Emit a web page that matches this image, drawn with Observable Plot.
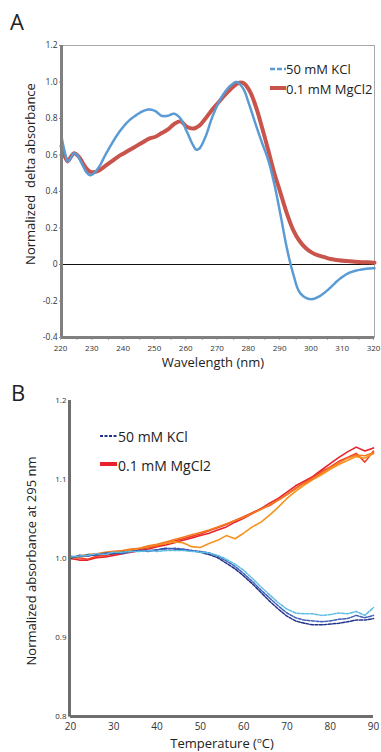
<!DOCTYPE html>
<html>
<head>
<meta charset="utf-8">
<script src="https://cdn.jsdelivr.net/npm/d3@7"></script>
<script src="https://cdn.jsdelivr.net/npm/@observablehq/plot@0.6"></script>
<style>
  body { margin: 0; background: #fff; }
  #wrap { position: relative; width: 381px; height: 752px; font-family: "Open Sans", sans-serif; color: #222; overflow: hidden; }
  .abs { position: absolute; white-space: pre; line-height: 1; }
  .rot { transform: translate(-50%, -50%) rotate(-90deg); }
  .ctr { transform: translate(-50%, -50%); }
  svg text { font-family: "Open Sans", sans-serif; }
</style>
</head>
<body>
<div id="wrap"></div>
<script>
// ---------- Panel A data: wavelength scan ----------
const wavelength = [220,221,222,223,224,225,226,227,228,229,230,232,234,236,238,240,242,244,246,248,250,252,254,256,258,260,262,263,264,266,268,270,272,274,276,278,280,282,284,286,288,290,292,294,296,298,300,302,304,306,308,310,312,314,316,318,320];
const kclSpectrum = [0.70,0.62,0.565,0.585,0.61,0.60,0.57,0.535,0.505,0.49,0.495,0.535,0.60,0.66,0.715,0.76,0.795,0.82,0.84,0.85,0.84,0.815,0.815,0.826,0.80,0.73,0.655,0.63,0.635,0.70,0.80,0.88,0.94,0.98,1.00,0.965,0.875,0.77,0.67,0.575,0.44,0.27,0.09,-0.05,-0.15,-0.182,-0.19,-0.178,-0.155,-0.125,-0.092,-0.065,-0.045,-0.034,-0.027,-0.022,-0.02];
const mgSpectrum = [0.65,0.595,0.565,0.59,0.61,0.60,0.58,0.55,0.525,0.51,0.505,0.515,0.54,0.565,0.59,0.61,0.63,0.65,0.67,0.69,0.70,0.72,0.74,0.77,0.785,0.755,0.745,0.75,0.76,0.80,0.845,0.885,0.925,0.96,0.99,0.995,0.955,0.87,0.755,0.63,0.50,0.39,0.28,0.19,0.13,0.09,0.065,0.05,0.04,0.03,0.025,0.02,0.018,0.015,0.013,0.012,0.01];
const xTicksA = [220,230,240,250,260,270,280,290,300,310,320];
const xMinorA = [225,235,245,255,265,275,285,295,305,315];
const yTicksA = [-0.4,-0.2,0,0.2,0.4,0.6,0.8,1.0,1.2];

// ---------- Panel B data: thermal melt at 295 nm ----------
const temperature = [20,22,24,26,28,30,32,34,36,38,40,42,44,46,48,50,52,54,56,58,60,62,64,66,68,70,72,74,76,78,80,82,84,86,88,90];
const kcl1 = [1.000,1.004,1.003,1.005,1.006,1.006,1.008,1.009,1.010,1.010,1.011,1.013,1.012,1.011,1.010,1.008,1.005,1.001,0.994,0.987,0.978,0.968,0.957,0.946,0.936,0.927,0.921,0.918,0.916,0.916,0.917,0.918,0.920,0.922,0.922,0.924];
const kcl2 = [1.003,1.002,1.005,1.004,1.007,1.007,1.006,1.009,1.010,1.009,1.011,1.012,1.013,1.012,1.010,1.009,1.007,1.003,0.997,0.990,0.981,0.971,0.960,0.950,0.940,0.931,0.925,0.922,0.921,0.920,0.921,0.923,0.924,0.928,0.925,0.928];
const kcl3 = [1.002,1.003,1.004,1.006,1.005,1.008,1.008,1.009,1.009,1.010,1.009,1.010,1.010,1.010,1.009,1.008,1.007,1.004,0.999,0.993,0.985,0.975,0.964,0.954,0.944,0.936,0.931,0.930,0.930,0.928,0.929,0.931,0.930,0.933,0.928,0.938];
const mg1 = [1.000,0.998,0.998,1.001,1.002,1.004,1.006,1.008,1.010,1.012,1.015,1.017,1.020,1.023,1.026,1.029,1.032,1.036,1.040,1.046,1.051,1.057,1.063,1.070,1.076,1.084,1.092,1.098,1.104,1.112,1.120,1.128,1.135,1.141,1.136,1.140];
const mg2 = [1.000,1.001,0.999,1.003,1.004,1.006,1.007,1.009,1.011,1.014,1.016,1.019,1.022,1.025,1.028,1.031,1.035,1.039,1.043,1.048,1.053,1.058,1.063,1.067,1.074,1.081,1.089,1.096,1.103,1.110,1.116,1.123,1.128,1.133,1.122,1.136];
const mg3 = [1.000,1.002,1.004,1.005,1.006,1.008,1.009,1.011,1.013,1.015,1.017,1.019,1.021,1.020,1.015,1.014,1.019,1.023,1.029,1.025,1.032,1.040,1.046,1.055,1.065,1.076,1.085,1.093,1.100,1.106,1.113,1.119,1.124,1.129,1.127,1.133];
const mg4 = [1.000,1.003,1.005,1.006,1.008,1.009,1.010,1.012,1.013,1.016,1.018,1.021,1.024,1.027,1.030,1.033,1.036,1.040,1.044,1.048,1.052,1.057,1.062,1.068,1.074,1.081,1.088,1.095,1.101,1.108,1.115,1.121,1.127,1.131,1.130,1.134];
const xTicksB = [20,30,40,50,60,70,80,90];
const yTicksB = [0.8,0.9,1.0,1.1,1.2];
const yMinorB = [0.85,0.95,1.05,1.15];

const kclColors = ["#22338a", "#3f5fb8", "#5cbde3"];
const mgColors = ["#e8212b", "#ef3f24", "#f7931e", "#f47b20"];

// ---------- build ----------
const wrap = document.getElementById("wrap");
function addText(txt, css, cls) {
  const d = document.createElement("div");
  d.className = "abs " + (cls || "");
  d.innerHTML = txt;
  Object.assign(d.style, css);
  wrap.appendChild(d);
  return d;
}
function addSample(left, top, w, color, sw, dash) {
  const ns = "http://www.w3.org/2000/svg";
  const s = document.createElementNS(ns, "svg");
  s.setAttribute("width", w); s.setAttribute("height", 8);
  s.style.position = "absolute"; s.style.left = left + "px"; s.style.top = (top - 4) + "px";
  const l = document.createElementNS(ns, "line");
  l.setAttribute("x1", 0); l.setAttribute("x2", w); l.setAttribute("y1", 4); l.setAttribute("y2", 4);
  l.setAttribute("stroke", color); l.setAttribute("stroke-width", sw);
  if (dash) l.setAttribute("stroke-dasharray", dash);
  s.appendChild(l);
  wrap.appendChild(s);
}

const fmtA = v => v === 0 ? "0" : v.toFixed(1);
const kclA = wavelength.map((x, i) => ({x, y: kclSpectrum[i]}));
const mgA = wavelength.map((x, i) => ({x, y: mgSpectrum[i]}));

const plotA = Plot.plot({
  width: 381, height: 375,
  marginLeft: 61, marginRight: 7, marginTop: 45, marginBottom: 38,
  x: {domain: [220, 320]},
  y: {domain: [-0.4, 1.2]},
  marks: [
    Plot.frame({stroke: "#a8a8a8", strokeWidth: 1}),
    Plot.axisY({ticks: yTicksA, tickFormat: fmtA, tickSize: 2, tickPadding: 2, fontSize: 8.5, fill: "#333", stroke: "#888", label: null}),
    Plot.axisX({ticks: xTicksA, tickFormat: d => String(d), tickSize: 3, tickPadding: 5, fontSize: 8, fill: "#333", stroke: "#aaa", label: null, dx: -1}),
    Plot.axisX({ticks: xMinorA, tickFormat: () => "", tickSize: 3, stroke: "#aaa", label: null}),
    Plot.ruleY([0], {stroke: "#111", strokeWidth: 1}),
    Plot.line(mgA, {x: "x", y: "y", stroke: "#c9544b", strokeWidth: 4, curve: "catmull-rom"}),
    Plot.line(kclA, {x: "x", y: "y", stroke: "#5b9bd5", strokeWidth: 2.5, strokeDasharray: "2.5,0.8", curve: "catmull-rom"}),
    Plot.ruleX([220], {stroke: "#808080", strokeWidth: 3}),
    Plot.ruleY([-0.4], {stroke: "#808080", strokeWidth: 3})
  ]
});
plotA.style.position = "absolute"; plotA.style.left = "0px"; plotA.style.top = "0px";
wrap.appendChild(plotA);

const series = [];
[kcl1, kcl2, kcl3].forEach((arr, k) => temperature.forEach((t, i) => series.push({t, v: arr[i], s: "kcl" + k, kind: "kcl", c: kclColors[k]})));
[mg1, mg2, mg3, mg4].forEach((arr, k) => temperature.forEach((t, i) => series.push({t, v: arr[i], s: "mg" + k, kind: "mg", c: mgColors[k]})));

const plotB = Plot.plot({
  width: 381, height: 372,
  marginLeft: 70, marginRight: 8, marginTop: 20, marginBottom: 36,
  x: {domain: [20, 90]},
  y: {domain: [0.8, 1.2]},
  marks: [
    Plot.axisY({ticks: yTicksB, tickFormat: v => v.toFixed(1), tickSize: 2, tickPadding: 2, fontSize: 8, fill: "#333", stroke: "#999", label: null}),
    Plot.axisY({ticks: yMinorB, tickFormat: () => "", tickSize: 2, stroke: "#999", label: null}),
    Plot.axisX({ticks: xTicksB, tickFormat: d => String(d), tickSize: 0, tickPadding: 6, fontSize: 10, fill: "#333", label: null}),
    Plot.line(series.filter(d => d.kind === "mg"), {x: "t", y: "v", z: "s", stroke: "c", strokeWidth: 1.6}),
    Plot.line(series.filter(d => d.kind === "kcl"), {x: "t", y: "v", z: "s", stroke: "c", strokeWidth: 1.5, strokeDasharray: "3,1.5"}),
    Plot.ruleX([20], {stroke: "#6e6e6e", strokeWidth: 3, dx: -1}),
    Plot.ruleY([0.8], {stroke: "#6e6e6e", strokeWidth: 3})
  ]
});
plotB.style.position = "absolute"; plotB.style.left = "0px"; plotB.style.top = "380px";
wrap.appendChild(plotB);

// ---------- texts ----------
addText("A", {left: "10px", top: "10px", fontSize: "22px"});
addText("B", {left: "11px", top: "381px", fontSize: "22px"});
addText("Normalized  delta absorbance", {left: "30px", top: "174px", fontSize: "13px"}, "rot");
addText("Wavelength (nm)", {left: "213px", top: "362px", fontSize: "13px"}, "ctr");
addText("Normalized absorbance at 295 nm", {left: "31px", top: "561px", fontSize: "13px"}, "rot");
addText("Temperature (<sup style='font-size:8px;vertical-align:5px'>o</sup>C)", {left: "222px", top: "743px", fontSize: "13px"}, "ctr");

// legends
addSample(270, 69, 16, "#5b9bd5", 2.5, "5,2");
addText("50 mM KCl", {left: "286px", top: "69px", fontSize: "13px", transform: "translateY(-50%)"});
addSample(270, 88, 16, "#c9544b", 4);
addText("0.1 mM MgCl2", {left: "286px", top: "89px", fontSize: "13px", transform: "translateY(-50%)"});

addSample(100, 436, 17, "#22338a", 2, "3,1.5");
addText("50 mM KCl", {left: "118px", top: "437px", fontSize: "14px", transform: "translateY(-50%)"});
addSample(100, 464, 17, "#e8212b", 4);
addText("0.1 mM MgCl2", {left: "118px", top: "466px", fontSize: "14px", transform: "translateY(-50%)"});
</script>
</body>
</html>
